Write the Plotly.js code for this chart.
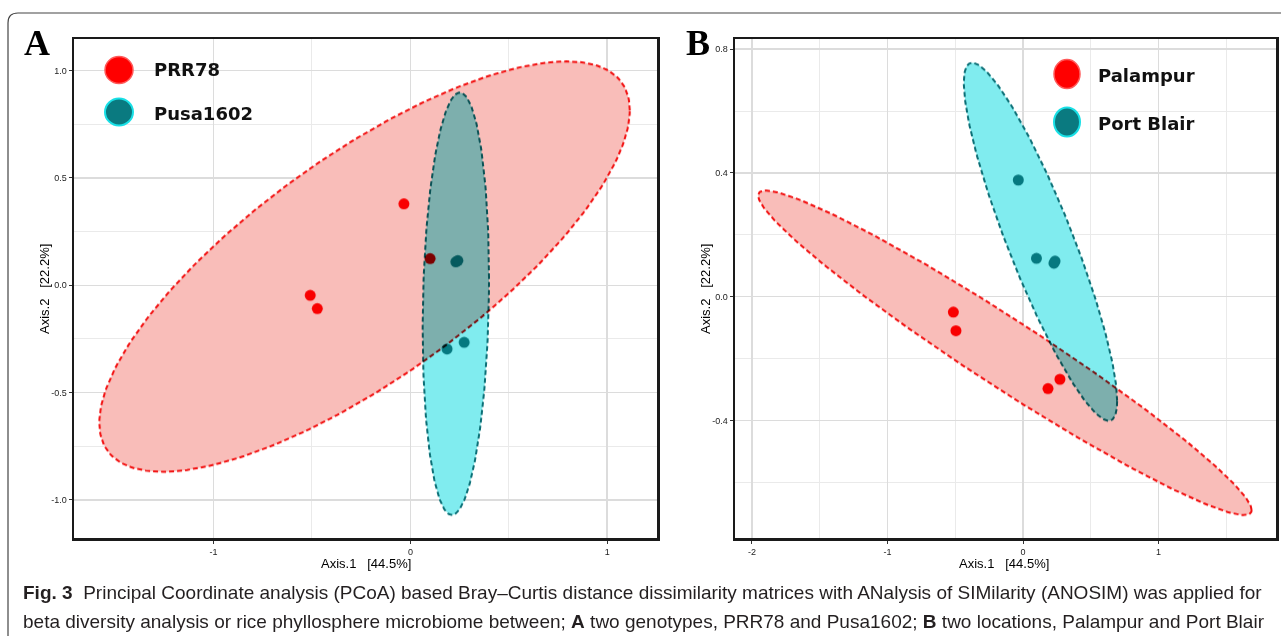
<!DOCTYPE html>
<html>
<head>
<meta charset="utf-8">
<script src="https://cdn.plot.ly/plotly-3.0.1.min.js"></script>
<style>
  html, body { margin: 0; padding: 0; background: #ffffff; }
  #chart { width: 1281px; height: 636px; }
</style>
</head>
<body>
<div id="chart"></div>
<script>
// ---------------- DATA ----------------
// Panel A: genotypes
const groupsA = ["PRR78", "Pusa1602"];
const prr78X = [-0.033, -0.509, -0.473, 0.100];
const prr78Y = [0.379, -0.047, -0.109, 0.124];
const pusaX = [0.231, 0.241, 0.186, 0.273];
const pusaY = [0.109, 0.115, -0.297, -0.266];
// ellipse parameters: [centre x, centre y, var x, var y, cov xy]
const ellipsePRR78 = [-0.233, 0.087, 1.8158, 0.9139, 0.981];
const ellipsePusa = [0.231, -0.0863, 0.0284, 0.9678, 0.020];

// Panel B: locations
const groupsB = ["Palampur", "Port Blair"];
const palampurX = [-0.514, -0.495, 0.184, 0.272];
const palampurY = [-0.050, -0.110, -0.297, -0.267];
const portBlairX = [-0.035, 0.099, 0.228, 0.236];
const portBlairY = [0.377, 0.124, 0.108, 0.115];
const ellipsePalampur = [-0.134, -0.1815, 3.312, 0.2751, -0.925];
const ellipsePortBlair = [0.1285, 0.1775, 0.3198, 0.3347, -0.291];

// Tick labels
const xTicksA = [-1, 0, 1];
const xTickTextA = ["-1", "0", "1"];
const yTicksA = [-1.0, -0.5, 0.0, 0.5, 1.0];
const yTickTextA = ["-1.0", "-0.5", "0.0", "0.5", "1.0"];
const xMinorA = [-0.5, 0.5];
const yMinorA = [-0.75, -0.25, 0.25, 0.75];
const xTicksB = [-2, -1, 0, 1];
const xTickTextB = ["-2", "-1", "0", "1"];
const yTicksB = [-0.4, 0.0, 0.4, 0.8];
const yTickTextB = ["-0.4", "0.0", "0.4", "0.8"];
const xMinorB = [-1.5, -0.5, 0.5, 1.5];
const yMinorB = [-0.6, -0.2, 0.2, 0.6];

const xTitle = "Axis.1\u00a0\u00a0 [44.5%]";
const yTitle = "Axis.2\u00a0\u00a0 [22.2%]";
const captionLine1 = "<b>Fig. 3</b>\u00a0\u00a0Principal Coordinate analysis (PCoA) based Bray\u2013Curtis distance dissimilarity matrices with ANalysis of SIMilarity (ANOSIM) was applied for";
const captionLine2 = "beta diversity analysis or rice phyllosphere microbiome between; <b>A</b> two genotypes, PRR78 and Pusa1602; <b>B</b> two locations, Palampur and Port Blair";

// ---------------- HELPERS ----------------
const W = 1281, H = 636;
const px = v => v / W;
const py = v => 1 - v / H;

function ellipsePath(p) {
  const [cx, cy, sxx, syy, sxy] = p;
  const l11 = Math.sqrt(sxx);
  const l21 = sxy / l11;
  const l22 = Math.sqrt(syy - l21 * l21);
  const xs = [], ys = [];
  const n = 240;
  for (let i = 0; i <= n; i++) {
    const t = 2 * Math.PI * i / n;
    xs.push(cx + l11 * Math.cos(t));
    ys.push(cy + l21 * Math.cos(t) + l22 * Math.sin(t));
  }
  return {x: xs, y: ys};
}

const RED = "#ff0000";
const TEAL = "#0b8389";
const PINK_FILL = "#f9bdb9";
const CYAN_FILL = "#80ecef";
const RED_LINE = "#f21010";
const TEAL_LINE = "#0b6f76";
const DASH = "5px,3px";

function points(x, y, color, xa, ya, name) {
  return {type: "scatter", mode: "markers", x: x, y: y, xaxis: xa, yaxis: ya, name: name,
    marker: {color: color, size: 11, line: {width: 0}}, showlegend: false, hoverinfo: "skip"};
}
function ell(p, fill, line, xa, ya, name) {
  const e = ellipsePath(p);
  return {type: "scatter", mode: "lines", x: e.x, y: e.y, xaxis: xa, yaxis: ya, name: name,
    fill: "toself", fillcolor: fill, line: {color: line, width: 2, dash: DASH},
    showlegend: false, hoverinfo: "skip"};
}

const traces = [
  points(prr78X, prr78Y, RED, "x", "y", groupsA[0]),
  points(pusaX, pusaY, TEAL, "x", "y", groupsA[1]),
  ell(ellipsePRR78, PINK_FILL, RED_LINE, "x", "y", groupsA[0] + " ellipse"),
  ell(ellipsePusa, CYAN_FILL, TEAL_LINE, "x", "y", groupsA[1] + " ellipse"),
  points(palampurX, palampurY, RED, "x2", "y2", groupsB[0]),
  points(portBlairX, portBlairY, TEAL, "x2", "y2", groupsB[1]),
  ell(ellipsePalampur, PINK_FILL, RED_LINE, "x2", "y2", groupsB[0] + " ellipse"),
  ell(ellipsePortBlair, CYAN_FILL, TEAL_LINE, "x2", "y2", groupsB[1] + " ellipse")
];

const tickFont = {family: "Liberation Sans, Arial", size: 9, color: "#222222"};
function axis(domain, range, tv, tt, minor, anchor) {
  return {
    domain: domain, range: range, anchor: anchor,
    tickmode: "array", tickvals: tv, ticktext: tt,
    ticks: "outside", ticklen: 3, tickwidth: 1, tickcolor: "#333333",
    tickfont: tickFont,
    showline: true, mirror: true, linecolor: "#1a1a1a", linewidth: 2.5,
    showgrid: true, gridcolor: "#dcdcdc", gridwidth: 1.5, zeroline: false,
    minor: {tickmode: "array", tickvals: minor, showgrid: true, gridcolor: "#eaeaea", gridwidth: 1, ticks: ""},
    fixedrange: true
  };
}

const yDom = [py(538.3), py(39.3)];
const layout = {
  width: W, height: H,
  margin: {l: 0, r: 0, t: 0, b: 0, pad: 0},
  paper_bgcolor: "#ffffff", plot_bgcolor: "#ffffff",
  showlegend: false,
  xaxis: axis([px(74), px(657)], [-1.709, 1.253], xTicksA, xTickTextA, xMinorA, "y"),
  yaxis: axis(yDom, [-1.179, 1.146], yTicksA, yTickTextA, yMinorA, "x"),
  xaxis2: axis([px(735), px(1276)], [-2.125, 1.866], xTicksB, xTickTextB, xMinorB, "y2"),
  yaxis2: axis(yDom, [-0.781, 0.832], yTicksB, yTickTextB, yMinorB, "x2"),
  shapes: [],
  annotations: []
};

// outer frame (rounded top-left corner)
const fx = 8, fy = 13, r = 10;
layout.shapes.push({
  type: "path", xref: "paper", yref: "paper", layer: "below",
  path: `M ${px(fx)},${py(H + 2)} L ${px(fx)},${py(fy + r)} Q ${px(fx)},${py(fy)} ${px(fx + r)},${py(fy)} L ${px(W + 2)},${py(fy)}`,
  line: {color: "#444444", width: 1.2}
});

// legends (circles in pixel size)
function legendDot(cx, cy, w, h, fill, line, lw) {
  return {type: "circle", xref: "paper", yref: "paper", xsizemode: "pixel", ysizemode: "pixel",
    xanchor: px(cx), yanchor: py(cy), x0: -w / 2, x1: w / 2, y0: -h / 2, y1: h / 2,
    fillcolor: fill, line: {color: line, width: lw}, layer: "above"};
}
layout.shapes.push(legendDot(119, 70, 28, 27, RED, "#ff5a5a", 1.5));
layout.shapes.push(legendDot(119, 112, 28, 27, "#0a7a80", "#19e0e6", 2));
layout.shapes.push(legendDot(1067, 74, 26, 29, RED, "#ff5a5a", 1.5));
layout.shapes.push(legendDot(1067, 122, 26, 29, "#0a7a80", "#19e0e6", 2));

const legFont = {family: "DejaVu Sans", size: 18, color: "#111111", weight: "bold"};
function txt(text, x, y, font, xanchor, extra) {
  return Object.assign({text: text, xref: "paper", yref: "paper", x: px(x), y: py(y),
    xanchor: xanchor || "center", yanchor: "middle", showarrow: false, font: font}, extra || {});
}
layout.annotations.push(txt(groupsA[0], 152, 70, legFont, "left"));
layout.annotations.push(txt(groupsA[1], 152, 113, legFont, "left"));
layout.annotations.push(txt(groupsB[0], 1096, 75, legFont, "left"));
layout.annotations.push(txt(groupsB[1], 1096, 123, legFont, "left"));

// panel letters
const letterFont = {family: "Liberation Serif, Times New Roman, serif", size: 36, color: "#000000", weight: "bold"};
layout.annotations.push(txt("A", 37, 43, letterFont));
layout.annotations.push(txt("B", 698, 43, letterFont));

// axis titles
const titleFont = {family: "Liberation Sans, Arial", size: 13, color: "#000000"};
layout.annotations.push(txt(xTitle, 366, 563, titleFont));
layout.annotations.push(txt(xTitle, 1004, 563, titleFont));
layout.annotations.push(txt(yTitle, 44, 289, titleFont, "center", {textangle: -90}));
layout.annotations.push(txt(yTitle, 705, 289, titleFont, "center", {textangle: -90}));

// caption
const capFont = {family: "Liberation Sans, Arial", size: 19, color: "#231f20"};
layout.annotations.push(txt(captionLine1, 21, 592, capFont, "left"));
layout.annotations.push(txt(captionLine2, 21, 621, capFont, "left"));

Plotly.newPlot("chart", traces, layout, {staticPlot: true, displayModeBar: false}).then(gd => {
  gd.querySelectorAll("g.trace.scatter").forEach(g => {
    const cd = g.__data__;
    const tr = cd && cd[0] && cd[0].trace;
    if (tr && tr.fill === "toself") g.style.mixBlendMode = "multiply";
  });
});
</script>
</body>
</html>
